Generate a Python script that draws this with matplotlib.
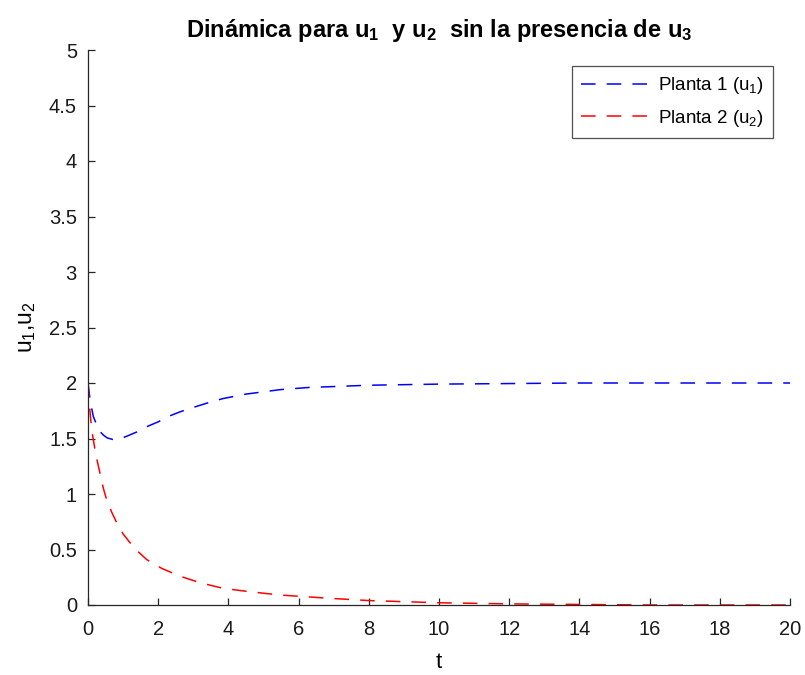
import matplotlib
matplotlib.use("Agg")
import matplotlib.pyplot as plt

plt.rcParams['font.family'] = ['Liberation Sans', 'DejaVu Sans']
plt.rcParams['mathtext.fontset'] = 'custom'
plt.rcParams['mathtext.rm'] = 'Liberation Sans'
plt.rcParams['mathtext.it'] = 'Liberation Sans'
plt.rcParams['mathtext.bf'] = 'Liberation Sans:bold'
plt.rcParams['lines.scale_dashes'] = False

t_u1 = [0, 0.03, 0.06, 0.1, 0.15, 0.2, 0.25, 0.3, 0.35, 0.44, 0.55, 0.72, 0.9, 1.1, 1.4, 1.7, 2.0, 2.3, 2.62, 3.0, 3.4, 3.85, 4.5, 5.47, 6.3, 7.18, 8.0, 9.0, 10.0, 12.0, 14.0, 16.0, 18.0, 20.0]
u1 = [2.0, 1.92, 1.85, 1.78, 1.70, 1.66, 1.62, 1.59, 1.56, 1.53, 1.505, 1.49, 1.495, 1.52, 1.56, 1.61, 1.65, 1.70, 1.74, 1.78, 1.82, 1.86, 1.90, 1.94, 1.96, 1.97, 1.98, 1.985, 1.99, 1.995, 2.0, 2.0, 2.0, 2.0]

t_u2 = [0, 0.03, 0.06, 0.1, 0.15, 0.24, 0.34, 0.43, 0.53, 0.67, 0.82, 1.0, 1.2, 1.43, 1.67, 2.1, 2.62, 3.2, 3.85, 4.6, 5.47, 6.9, 8.0, 9.0, 10.0, 12.0, 14.0, 16.0, 18.0, 20.0]
u2 = [2.0, 1.85, 1.73, 1.60, 1.49, 1.33, 1.19, 1.06, 0.95, 0.84, 0.74, 0.64, 0.56, 0.48, 0.41, 0.33, 0.26, 0.20, 0.15, 0.12, 0.09, 0.06, 0.04, 0.03, 0.02, 0.01, 0.005, 0.0, 0.0, 0.0]

xticks = [0, 2, 4, 6, 8, 10, 12, 14, 16, 18, 20]
yticks = [0, 0.5, 1, 1.5, 2, 2.5, 3, 3.5, 4, 4.5, 5]
ytick_labels = ['0', '0.5', '1', '1.5', '2', '2.5', '3', '3.5', '4', '4.5', '5']

fig = plt.figure(figsize=(8.05, 6.75), dpi=100)
ax = fig.add_axes([88/805, 70/675, (790-88)/805, (605-50)/675])

l1, = ax.plot(t_u1, u1, color='#0000ff', lw=1.1, label='Planta 1 (u$_1$)')
l2, = ax.plot(t_u2, u2, color='#ff0000', lw=1.1, label='Planta 2 (u$_2$)')
for l in (l1, l2):
    l.set_dashes((10.5, 8.0))

ax.set_xlim(0, 20)
ax.set_ylim(0, 5)
ax.set_xticks(xticks)
ax.set_xticklabels([str(v) for v in xticks])
ax.set_yticks(yticks)
ax.set_yticklabels(ytick_labels)

for s in ('top', 'right'):
    ax.spines[s].set_visible(False)
for s in ('left', 'bottom'):
    ax.spines[s].set_color('#262626')
    ax.spines[s].set_linewidth(0.9)
ax.tick_params(direction='in', length=5, width=0.9, colors='#262626', labelsize=14.5)
ax.tick_params(axis='y', pad=8)
ax.tick_params(axis='x', pad=11)
for lab in ax.get_xticklabels() + ax.get_yticklabels():
    lab.set_color('#1a1a1a')

ax.set_xlabel('t', fontsize=16, labelpad=9)
ax.set_ylabel('u$_1$,u$_2$', fontsize=16.5, labelpad=8)
ax.set_title('Dinámica para u$_\\mathbf{1}$  y u$_\\mathbf{2}$  sin la presencia de u$_\\mathbf{3}$',
             fontsize=17, fontweight='bold', pad=9)

leg = ax.legend(loc='upper right', bbox_to_anchor=(773/805, 609/675), bbox_transform=fig.transFigure,
                fontsize=13.5, frameon=True, fancybox=False, handlelength=3.6, borderpad=0.5,
                labelspacing=0.6, handletextpad=0.5, borderaxespad=0)
leg.get_frame().set_edgecolor('#262626')
leg.get_frame().set_linewidth(0.9)

fig.savefig('out.png', dpi=100)
